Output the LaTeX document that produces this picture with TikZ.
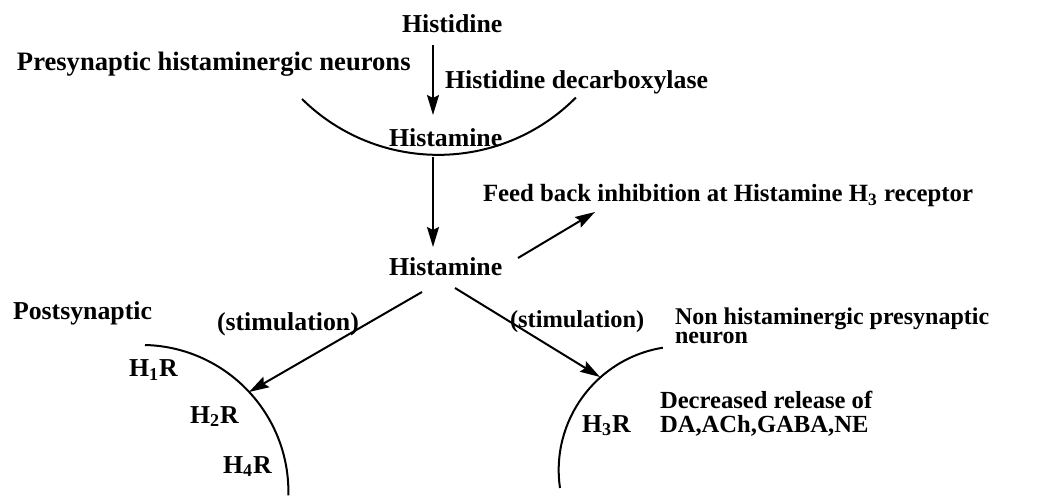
\documentclass[tikz,border=0pt]{standalone}
\usepackage{fontspec}
\setmainfont{Liberation Serif}
\usetikzlibrary{arrows.meta}
\begin{document}
\begin{tikzpicture}[x=0.5pt,y=-0.5pt,
  lbl/.style={anchor=base west, inner sep=0pt, outer sep=0pt, font=\bfseries\fontsize{12.9}{14}\selectfont},
  arr/.style={line width=1pt, -{Stealth[length=10pt,width=6pt,inset=1.5pt]}},
  membrane/.style={line width=1pt}]
\useasboundingbox (0,0) rectangle (1038,496);
% texts
\node[lbl] (histidine) at (402,33) {Histidine};
\node[lbl, font=\bfseries\fontsize{13.3}{14}\selectfont] (pre) at (17,71) {Presynaptic histaminergic neurons};
\node[lbl] (hdc) at (445,89) {Histidine decarboxylase};
\node[lbl] (hist1) at (389,147) {Histamine};
\node[lbl] (hist2) at (389,276) {Histamine};
\node[lbl, font=\bfseries\fontsize{12.4}{14}\selectfont] (fb) at (483,202) {Feed back inhibition at Histamine H\textsubscript{3} receptor};
\node[lbl] (post) at (13,320) {Postsynaptic};
\node[lbl] (stimL) at (217,331) {(stimulation)};
\node[lbl, font=\bfseries\fontsize{12.2}{14}\selectfont] (stimR) at (510,328) {(stimulation)};
\node[lbl, align=left, font=\bfseries\fontsize{12}{9.9}\selectfont] (nonh) at (675,344) {Non histaminergic presynaptic\\neuron};
\node[lbl, align=left, font=\bfseries\fontsize{12.3}{12}\selectfont] (dec) at (660,432) {Decreased release of\\DA,ACh,GABA,NE};
\node[lbl] (h1) at (129,377) {H\textsubscript{1}R};
\node[lbl] (h2) at (190,423) {H\textsubscript{2}R};
\node[lbl] (h4) at (223,473) {H\textsubscript{4}R};
\node[lbl] (h3) at (582,432) {H\textsubscript{3}R};
% membranes
\draw[membrane] (302,99) arc[start angle=134.6, end angle=44.8, radius=194];
\draw[membrane] (145,345) arc[start angle=271.4, end angle=361.3, radius=147];
\draw[membrane] (560,488) arc[start angle=171.7, end angle=260.8, radius=124];
% arrow end points
\coordinate (a1s) at (433,45);  \coordinate (a1e) at (433,115);
\coordinate (a2s) at (433,157); \coordinate (a2e) at (433,247);
\coordinate (a3s) at (518,258); \coordinate (a3e) at (595,212);
\coordinate (a4s) at (422,292); \coordinate (a4e) at (249,392);
\coordinate (a5s) at (455,288); \coordinate (a5e) at (600,377);
\draw[arr] (a1s) -- (a1e);
\draw[arr] (a2s) -- (a2e);
\draw[arr] (a3s) -- (a3e);
\draw[arr] (a4s) -- (a4e);
\draw[arr] (a5s) -- (a5e);
\end{tikzpicture}
\end{document}
